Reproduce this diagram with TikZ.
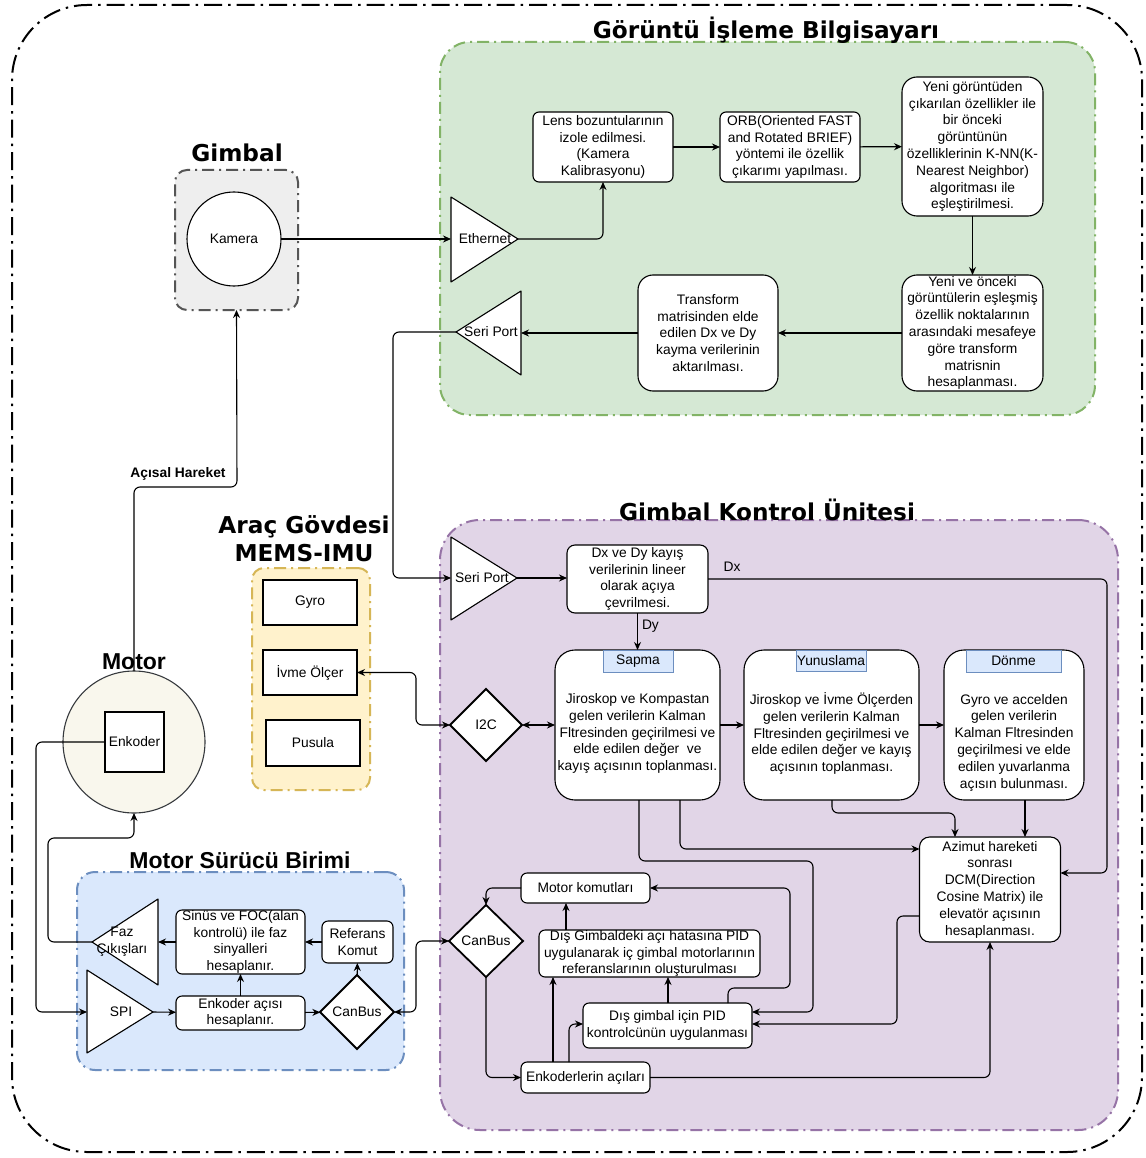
\documentclass[tikz,border=0pt]{standalone}
\usepackage{fontspec}
\setmainfont{Liberation Sans}
\newfontfamily\dejavu{DejaVu Sans}
\usetikzlibrary{shapes.geometric,arrows.meta,calc}
\definecolor{gfill}{HTML}{D5E8D4}\definecolor{gline}{HTML}{82B366}
\definecolor{pfill}{HTML}{E1D5E7}\definecolor{pline}{HTML}{9673A6}
\definecolor{bfill}{HTML}{DAE8FC}\definecolor{bline}{HTML}{6C8EBF}
\definecolor{yfill}{HTML}{FFF2CC}\definecolor{yline}{HTML}{D6B656}
\definecolor{kfill}{HTML}{EEEEEE}\definecolor{kline}{HTML}{555555}
\definecolor{mfill}{HTML}{F9F7ED}\definecolor{mline}{HTML}{36393D}
\newcommand\fs{\fontsize{13.8}{16.8}\selectfont}
\newcommand\tfa{\dejavu\bfseries\fontsize{23.2}{28}\selectfont}
\newcommand\tfb{\bfseries\fontsize{23}{28}\selectfont}
\tikzset{
  every node/.style={inner sep=0pt, outer sep=0pt},
  cont/.style={line width=2pt, dash pattern=on 12pt off 5pt on 2pt off 5pt},
  box/.style={draw, fill=white, line width=1.1pt, rounded corners=6pt},
  sbox/.style={draw, fill=white, line width=1.1pt},
  lbl/.style={label={[txt]center:{#1}}},
  txt/.style={font=\fs, align=center, inner sep=0pt},
  tag/.style={draw=bline, fill=bfill, line width=1pt, font=\fs},
  dia/.style={diamond, draw, fill=white, line width=1.8pt, font=\fs, aspect=1},
  tri/.style={draw, fill=white, line width=1.1pt, line join=round},
  arr/.style={line width=1.1pt, -{Stealth[length=8pt,width=7pt]}, rounded corners=6pt},
  darr/.style={line width=1.1pt, {Stealth[length=8pt,width=7pt]}-{Stealth[length=8pt,width=7pt]}, rounded corners=6pt},
  ttl/.style={font=\tfa, align=center},
  ttlb/.style={font=\tfb, align=center}
}
\begin{document}
\begin{tikzpicture}[x=1pt,y=-1pt]
\useasboundingbox (0,0) rectangle (1145,1158);
\fill[white] (0,0) rectangle (1145,1158);

% ---------- containers ----------
\node[draw=black, line width=2pt, dash pattern=on 18pt off 6pt on 2.5pt off 6pt, rounded corners=75pt, minimum width=1130, minimum height=1147] (outer) at (577,578.5) {};
\node[cont, draw=gline, fill=gfill, rounded corners=30pt, minimum width=655, minimum height=373] (gc) at (767.5,228.5) {};
\node[cont, draw=pline, fill=pfill, rounded corners=40pt, minimum width=678, minimum height=610] (pc) at (779,825) {};
\node[cont, draw=bline, fill=bfill, rounded corners=18pt, minimum width=327, minimum height=198] (bc) at (240.5,971) {};
\node[cont, draw=yline, fill=yfill, rounded corners=12pt, minimum width=118, minimum height=222] (yc) at (311,679) {};
\node[cont, draw=kline, fill=kfill, rounded corners=12pt, minimum width=123, minimum height=140] (kc) at (236.5,240) {};

% ---------- titles ----------
\node[ttl] (t1) at (766,30) {Görüntü İşleme Bilgisayarı};
\node[ttl] (t2) at (237,153) {Gimbal};
\node[ttl] (t3) at (767,510) {Gimbal Kontrol Ünitesi};
\node[ttl] (t4) at (304,539) {Araç Gövdesi\\MEMS-IMU};
\node[ttlb] (t5) at (134,662) {Motor};
\node[ttlb] (t6) at (240,860) {Motor Sürücü Birimi};

% ---------- Gimbal / camera ----------
\node[circle, draw, fill=white, line width=1.1pt, minimum size=94, font=\fs] (kam) at (234,239) {Kamera};

% ---------- green block ----------
\draw[tri] (451,197) -- (518,239) -- (451,282) -- cycle;
\coordinate (ethW) at (451,239); \coordinate (ethA) at (518,239);
\node[txt] (ethT) at (485,239) {Ethernet};
\draw[tri] (521,291) -- (456,332) -- (521,375) -- cycle;
\coordinate (sp1E) at (521,333); \coordinate (sp1A) at (456,332);
\node[txt] (sp1T) at (491,332) {Seri Port};

\node[box, minimum width=140, minimum height=70, lbl={Lens bozuntularının\\izole edilmesi.\\(Kamera\\Kalibrasyonu)}] (lens) at (603,147) {};
\node[box, minimum width=140, minimum height=70, lbl={ORB(Oriented FAST\\and Rotated BRIEF)\\yöntemi ile özellik\\çıkarımı yapılması.}] (orb) at (790,147) {};
\node[box, rounded corners=15pt, minimum width=141, minimum height=139, lbl={Yeni görüntüden\\çıkarılan özellikler ile\\bir önceki\\görüntünün\\özelliklerinin K-NN(K-\\Nearest Neighbor)\\algoritması ile\\eşleştirilmesi.}] (yeni) at (972.5,146.5) {};
\node[box, rounded corners=15pt, minimum width=141, minimum height=116, lbl={Yeni ve önceki\\görüntülerin eşleşmiş\\özellik noktalarının\\arasındaki mesafeye\\göre transform\\matrisnin\\hesaplanması.}] (yvo) at (972.5,333) {};
\node[box, rounded corners=15pt, minimum width=140, minimum height=116, lbl={Transform\\matrisinden elde\\edilen Dx ve Dy\\kayma verilerinin\\aktarılması.}] (trans) at (708,333) {};

% ---------- yellow IMU ----------
\node[sbox, minimum width=94, minimum height=45, font=\fs] (gyro) at (310,602.5) {Gyro};
\node[sbox, minimum width=94, minimum height=45, font=\fs] (ivme) at (310,672.5) {İvme Ölçer};
\node[sbox, minimum width=94, minimum height=46, font=\fs] (pusula) at (313,743) {Pusula};

% ---------- motor ----------
\node[circle, draw=mline, fill=mfill, line width=1.1pt, minimum size=142] (motor) at (134,742) {};
\node[sbox, minimum width=59, minimum height=60, font=\fs] (enk) at (134.5,742) {Enkoder};

% ---------- blue driver ----------
\draw[tri] (92,942) -- (158,899) -- (158,985) -- cycle;
\coordinate (fazA) at (92,942); \coordinate (fazE) at (158,942);
\node[txt] (fazT) at (122,942) {Faz\\Çıkışları};
\draw[tri] (87,970) -- (153,1012) -- (87,1053) -- cycle;
\coordinate (spiW) at (87,1012); \coordinate (spiA) at (153,1012);
\node[txt] (spiT) at (121,1012) {SPI};
\node[box, minimum width=129, minimum height=64, lbl={Sinüs ve FOC(alan\\kontrolü) ile faz\\sinyalleri\\hesaplanır.}] (sinus) at (240.5,942) {};
\node[box, minimum width=71, minimum height=42, lbl={Referans\\Komut}] (ref) at (357.5,942) {};
\node[box, minimum width=129, minimum height=34, lbl={Enkoder açısı\\hesaplanır.}] (enca) at (240.5,1013) {};
\node[dia, minimum width=74, minimum height=74] (canB) at (357,1012) {CanBus};

% ---------- purple control unit ----------
\draw[tri] (451,537) -- (517,578) -- (451,620) -- cycle;
\coordinate (sp2W) at (451,578); \coordinate (sp2A) at (517,578);
\node[txt] (sp2T) at (482,578) {Seri Port};
\node[box, rounded corners=8pt, minimum width=141, minimum height=68, lbl={Dx ve Dy kayış\\verilerinin lineer\\olarak açıya\\çevrilmesi.}] (dxdy) at (637.5,579) {};
\node[dia, minimum width=72, minimum height=72] (i2c) at (486,725) {I2C};

\node[box, rounded corners=20pt, minimum width=165, minimum height=150, label={[txt,yshift=-8.5pt]center:{Jiroskop ve Kompastan\\gelen verilerin Kalman\\Fltresinden geçirilmesi ve\\elde edilen değer\ \ ve\\kayış açısının toplanması.}}] (sapma) at (637.5,725) {};
\node[tag, minimum width=70, minimum height=22, anchor=north] (sapmaT) at (638,650) {Sapma};
\node[box, rounded corners=20pt, minimum width=175, minimum height=150, label={[txt,yshift=-8.5pt]center:{Jiroskop ve İvme Ölçerden\\gelen verilerin Kalman\\Fltresinden geçirilmesi ve\\elde edilen değer ve kayış\\açısının toplanması.}}] (yunus) at (831.5,725) {};
\node[tag, minimum width=70, minimum height=21, anchor=north] (yunusT) at (831,650) {Yunuslama};
\node[box, rounded corners=20pt, minimum width=140, minimum height=150, label={[txt,yshift=-17.5pt]center:{Gyro ve accelden\\gelen verilerin\\Kalman Fltresinden\\geçirilmesi ve elde\\edilen yuvarlanma\\açısın bulunması.}}] (donme) at (1014,725) {};
\node[tag, minimum width=95, minimum height=22, anchor=north] (donmeT) at (1013.5,650) {Dönme};

\node[box, rounded corners=10pt, minimum width=141, minimum height=105, lbl={Azimut hareketi\\sonrası\\DCM(Direction\\Cosine Matrix) ile\\elevatör açısının\\hesaplanması.}] (azi) at (990,889.5) {};

\node[box, minimum width=129, minimum height=30, font=\fs] (mk) at (585.5,888) {Motor komutları};
\node[dia, minimum width=74, minimum height=72] (canP) at (486,941) {CanBus};
\node[box, minimum width=221, minimum height=47, lbl={Dış Gimbaldeki açı hatasına PID\\uygulanarak iç gimbal motorlarının\\referanslarının oluşturulması}] (dg) at (649.5,953.5) {};
\node[box, minimum width=169, minimum height=45, lbl={Dış gimbal için PID\\kontrolcünün uygulanması}] (pid) at (667.5,1025.5) {};
\node[box, minimum width=129, minimum height=31, font=\fs] (enc2) at (585.5,1077.5) {Enkoderlerin açıları};

% ---------- connectors ----------
\draw[arr] (kam) -- (ethW);
\draw[arr] (ethA) -| (lens);
\draw[arr] (lens) -- (orb);
\draw[arr] (orb) -- (yeni);
\draw[arr] (yeni) -- (yvo);
\draw[arr] (yvo) -- (trans);
\draw[arr] (trans) -- (sp1E);
\draw[arr] (sp1A) -- (393,332) -- (393,578) -- (sp2W);

\draw[arr] (motor.north) -- (134,487) -- (237,487) -- (kc.south);
\node[txt, font=\fs\bfseries, anchor=south] (ah) at (178,480) {Açısal Hareket};

\draw[arr] (fazA) -- (48,942) -- (48,838) -- (134,838) -- (motor.south);
\draw[arr] (enk.west) -- (36,742) -- (36,1012) -- (spiW);
\draw[arr] (spiA) -- (enca);
\draw[arr] (enca) -- (canB);
\draw[arr] (enca) -- (sinus);
\draw[arr] (ref) -- (sinus);
\draw[arr] (sinus) -- (fazE);
\draw[arr] (canB) -- (ref);
\draw[darr] (canP.west) -- (416,941) -- (416,1012) -- (canB.east);
\draw[darr] (i2c.west) -- (416,725) -- (416,672.5) -- (ivme.east);
\draw[darr] (i2c) -- (sapma);

\draw[arr] (sp2A) -- (dxdy.west |- sp2A);
\draw[arr] (dxdy) -- (sapma);
\node[txt, anchor=west] (dyL) at (642,626) {Dy};
\draw[arr] (dxdy.east) -- (1107,579) -- (1107,873) -- (azi.east |- 0,873);
\node[txt] (dxL) at (732,567) {Dx};
\draw[arr] (sapma) -- (yunus);
\draw[arr] (yunus) -- (donme);
\draw[arr] (sapma.south -| 680,0) -- (680,849) -- (azi.west |- 0,849);
\draw[arr] (sapma.south -| 639,0) -- (639,861) -- (813,861) -- (813,1012) -- (pid.east |- 0,1012);
\draw[arr] (yunus.south -| 832,0) -- (832,813) -- (955,813) -- (azi.north -| 955,0);
\draw[arr] (donme.south -| 1025,0) -- (azi.north -| 1025,0);
\draw[arr] (azi.west |- 0,916) -- (897,916) -- (897,1024) -- (pid.east |- 0,1024);
\draw[arr] (enc2.east) -| (azi.south);
\draw[arr] (canP.south) |- (enc2.west);
\draw[arr] (mk.west) -| (canP.north);
\draw[arr] (dg.north -| 566,0) -- (mk.south -| 566,0);
\draw[arr] (pid.north -| 668,0) -- (dg.south -| 668,0);
\draw[arr] (pid.north -| 728,0) -- (728,988) -- (790,988) -- (790,888) -- (mk.east);
\draw[arr] (enc2.north -| 553,0) -- (dg.south -| 553,0);
\draw[arr] (enc2.north -| 569,0) -- (569,1024) -- (pid.west |- 0,1024);
\end{tikzpicture}
\end{document}
